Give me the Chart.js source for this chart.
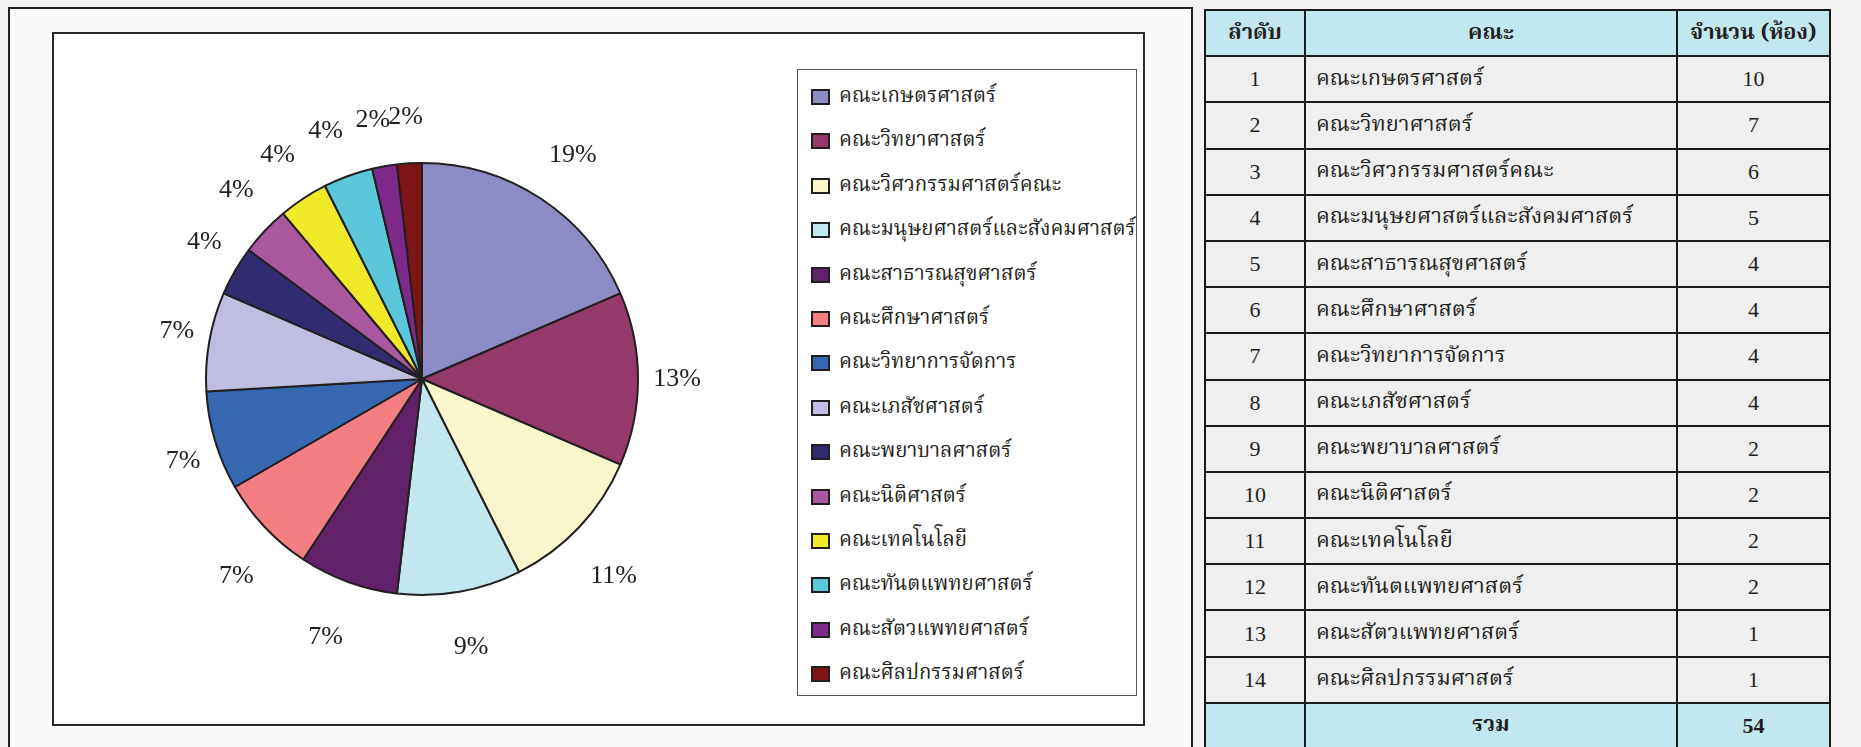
<!DOCTYPE html>
<html><head><meta charset="utf-8">
<script src="https://cdn.jsdelivr.net/npm/chart.js@4.4.0/dist/chart.umd.min.js"></script>
<style>
html,body{margin:0;padding:0;width:1861px;height:747px;overflow:hidden;background:#f2f2f2;}
body{position:relative;font-family:"Noto Serif Thai","Norasi","Kinnari","TlwgTypo","Loma","Garuda","Noto Sans Thai","Liberation Serif",serif;color:#231f20;}
#frame{position:absolute;left:8px;top:7px;width:1181px;height:760px;border-left:2px solid #1e1e1e;border-top:2px solid #1e1e1e;border-right:2px solid #1e1e1e;background:#fafafa;}
#box{position:absolute;left:52px;top:32px;width:1089px;height:690px;border:2px solid #2a2a2a;background:#fff;}
#pie{position:absolute;left:52px;top:32px;}
#legend{position:absolute;left:797px;top:69px;width:338px;height:625px;border:1px solid #555;background:#fff;}
.li{position:absolute;left:0;height:30px;}
.mk{position:absolute;left:13px;width:15px;height:12px;border:2px solid #231f20;}
.lt{position:absolute;left:41px;top:0;font-size:20.4px;white-space:nowrap;line-height:30px;}
#tbl{position:absolute;left:1204px;top:9px;display:grid;grid-template-columns:98px 370px 151px;grid-auto-rows:44.2px;gap:2px;padding:2px;background:#1a1a1a;}
#tbl div{display:flex;align-items:center;justify-content:center;font-size:21.8px;background:#efefef;white-space:nowrap;}
#tbl div.h{background:#c3e7ef;font-weight:bold;}
#tbl div.l{justify-content:flex-start;padding-left:10px;}
#tbl div.n{font-family:"Liberation Serif","Times New Roman",serif;font-size:22px;}
</style></head>
<body>
<div id="frame"></div>
<div id="box"></div>
<canvas id="pie" width="740" height="694"></canvas>
<div id="legend"></div>
<div id="tbl"></div>
<script>
const faculties = ["คณะเกษตรศาสตร์","คณะวิทยาศาสตร์","คณะวิศวกรรมศาสตร์คณะ","คณะมนุษยศาสตร์และสังคมศาสตร์","คณะสาธารณสุขศาสตร์","คณะศึกษาศาสตร์","คณะวิทยาการจัดการ","คณะเภสัชศาสตร์","คณะพยาบาลศาสตร์","คณะนิติศาสตร์","คณะเทคโนโลยี","คณะทันตแพทยศาสตร์","คณะสัตวแพทยศาสตร์","คณะศิลปกรรมศาสตร์"];
const rooms = [10,7,6,5,4,4,4,4,2,2,2,2,1,1];
const colors = ["#8c8bc4","#95396b","#faf7cc","#c2e7ef","#62226a","#f37f82","#3667b1","#c0bee0","#302c6f","#aa599f","#f0ea29","#5bc7db","#7e2a8b","#7d1416"];
const tableHeaders = ["ลำดับ","คณะ","จำนวน (ห้อง)"];
const totalLabel = "รวม";

const clamp1 = t => Math.max(-1, Math.min(1, t));
const pctLabels = {
  id:'pctLabels',
  afterDatasetsDraw(chart){
    const ctx = chart.ctx;
    const meta = chart.getDatasetMeta(0);
    const data = chart.data.datasets[0].data;
    const total = data.reduce((a,b)=>a+b,0);
    ctx.save();
    ctx.font = '26px "Liberation Serif","Times New Roman",serif';
    ctx.fillStyle = '#231f20';
    ctx.textAlign = 'center';
    ctx.textBaseline = 'middle';
    meta.data.forEach((arc,i)=>{
      const p = arc.getProps(['x','y','startAngle','endAngle','outerRadius'], true);
      const mid = (p.startAngle + p.endAngle)/2;
      const ux = Math.cos(mid), uy = Math.sin(mid);
      const txt = Math.round(data[i]/total*100)+'%';
      const W = ctx.measureText(txt).width/2;
      const H = p.outerRadius*(uy < 0 ? 0.143 : 0.187);
      const R = p.outerRadius*1.071;
      ctx.fillText(txt, p.x + R*ux + W*clamp1(3*ux), p.y + R*uy + H*clamp1(1.4*uy));
    });
    ctx.restore();
  }
};

const htmlLegend = {
  id:'htmlLegend',
  afterUpdate(chart){
    const el = document.getElementById('legend');
    el.innerHTML = '';
    const items = chart.options.plugins.legend.labels.generateLabels(chart);
    items.forEach((it,i)=>{
      const row = document.createElement('div');
      row.className = 'li';
      row.style.top = (12 + 44.4*i) + 'px';
      const mk = document.createElement('span');
      mk.className = 'mk';
      mk.style.background = it.fillStyle;
      mk.style.top = '7px';
      const tx = document.createElement('span');
      tx.className = 'lt';
      tx.textContent = it.text;
      row.appendChild(mk); row.appendChild(tx);
      el.appendChild(row);
    });
  }
};

new Chart(document.getElementById('pie'), {
  type:'pie',
  data:{labels:faculties, datasets:[{data:rooms, backgroundColor:colors, borderColor:'#231f20', borderWidth:2}]},
  options:{
    responsive:false, animation:false, radius:216,
    layout:{padding:0},
    plugins:{legend:{display:false}, tooltip:{enabled:false}}
  },
  plugins:[pctLabels, htmlLegend]
});

// table
const tbl = document.getElementById('tbl');
function cell(txt, cls){ const d=document.createElement('div'); d.className=cls; d.textContent=txt; tbl.appendChild(d); }
cell(tableHeaders[0],'h'); cell(tableHeaders[1],'h'); cell(tableHeaders[2],'h');
faculties.forEach((f,i)=>{ cell(String(i+1),'n'); cell(f,'l'); cell(String(rooms[i]),'n'); });
cell('','h'); cell(totalLabel,'h'); cell(String(rooms.reduce((a,b)=>a+b,0)),'h n');
</script>
</body></html>
